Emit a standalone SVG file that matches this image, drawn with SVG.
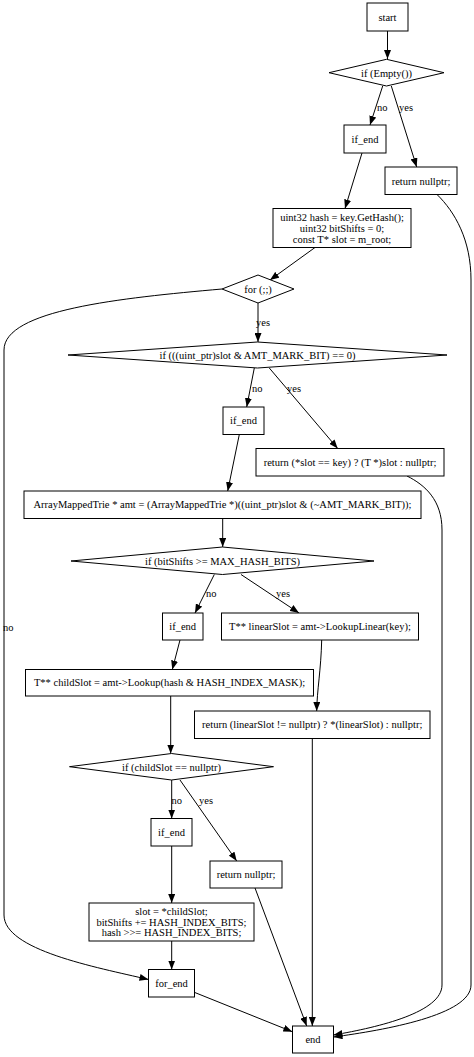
<svg xmlns="http://www.w3.org/2000/svg" width="474" height="1057" viewBox="0 0 474 1057">
<defs>
<marker id="ah" viewBox="0 0 9 7" refX="9" refY="3.5" markerWidth="9" markerHeight="7" markerUnits="userSpaceOnUse" orient="auto">
<path d="M0,0 L9,3.5 L0,7 z" fill="#000"/>
</marker>
<style>
.n rect, .n polygon { fill: #fff; stroke: #000; stroke-width: 1; }
text { font-family: "Liberation Serif", "Times New Roman", serif; font-size: 10.5px; fill: #000; }
.n text { text-anchor: middle; }
.e path { fill: none; stroke: #000; stroke-width: 1; marker-end: url(#ah); }
</style>
</defs>
<rect width="474" height="1057" fill="#fff"/>
<g id="edges" class="e">
<path d="M387.5,31 L387.5,59"/>
<path d="M382.7,86 L370,125"/>
<text x="377" y="110.5">no</text>
<path d="M391.3,86 L416.7,167"/>
<text x="399" y="110.5">yes</text>
<path d="M362,153 L345,208.5"/>
<path d="M315,247.5 L270,280"/>
<path d="M437,194.5 C455,212 471,240 471,280 L471,985 C471,1015 385,1030 333.5,1037"/>
<path d="M258,303 L258,342"/>
<text x="256" y="326">yes</text>
<path d="M222,289 C120,298 4,310 4,350 L4,915 C4,950 95,967 148.5,979.5"/>
<text x="3" y="631">no</text>
<path d="M254.3,368 L246.7,407"/>
<text x="252" y="391.5">no</text>
<path d="M269.3,368 L337.7,448.5"/>
<text x="287" y="391.5">yes</text>
<path d="M239.3,434.5 L227.7,491"/>
<path d="M407,476 C425,485 442,500 442,530 L442,985 C442,1012 380,1027 333.5,1035"/>
<path d="M222.7,518.5 L222.7,547"/>
<path d="M214.3,574.5 L195,613"/>
<text x="206" y="597">no</text>
<path d="M241,574.5 L299,613"/>
<text x="276" y="597">yes</text>
<path d="M180,640 L172.3,669.5"/>
<path d="M321.7,640 C321,670 317,690 316.7,711"/>
<path d="M170.7,696 L170.7,753.5"/>
<path d="M312.3,738.5 L312.3,1026"/>
<path d="M171.7,780 L171.7,818.5"/>
<text x="171.5" y="803.5">no</text>
<path d="M180,780 L236.7,861"/>
<text x="199" y="803.5">yes</text>
<path d="M171.7,846 L171.7,903"/>
<path d="M255,888 L306.7,1026"/>
<path d="M171.7,941 L171.7,969.5"/>
<path d="M194.3,992.3 L292.3,1031.7"/>
</g>
<g id="start" class="n"><rect x="367" y="3" width="41" height="28"/><text x="387.5" y="20.5">start</text></g>
<g id="if_empty" class="n"><polygon points="329,72.7 386.5,59.3 444,72.7 386.5,86"/><text x="386.5" y="76.5">if (Empty())</text></g>
<g id="if_end1" class="n"><rect x="344" y="125" width="42" height="28"/><text x="365" y="142.5">if_end</text></g>
<g id="ret_null1" class="n"><rect x="385" y="167" width="72" height="27.5"/><text x="421" y="184.5">return nullptr;</text></g>
<g id="init" class="n"><rect x="273" y="208.5" width="138" height="39"/><text x="342" y="221">uint32 hash = key.GetHash();</text><text x="342" y="232">uint32 bitShifts = 0;</text><text x="342" y="243">const T* slot = m_root;</text></g>
<g id="for" class="n"><polygon points="222,289 258,275 294,289 258,303"/><text x="258" y="292.5">for (;;)</text></g>
<g id="if_mark" class="n"><polygon points="68,355 257.5,342 447,355 257.5,368"/><text x="257.5" y="358.5">if (((uint_ptr)slot &amp; AMT_MARK_BIT) == 0)</text></g>
<g id="if_end2" class="n"><rect x="223" y="407" width="41" height="27.5"/><text x="243.5" y="424">if_end</text></g>
<g id="ret_slot" class="n"><rect x="256" y="448.5" width="188" height="27.5"/><text x="350" y="465.5">return (*slot == key) ? (T *)slot : nullptr;</text></g>
<g id="amt" class="n"><rect x="24" y="491" width="397" height="27.5"/><text x="222.5" y="508">ArrayMappedTrie * amt = (ArrayMappedTrie *)((uint_ptr)slot &amp; (~AMT_MARK_BIT));</text></g>
<g id="if_bits" class="n"><polygon points="71,561 222.5,547 374,561 222.5,574.5"/><text x="222.5" y="564.5">if (bitShifts &gt;= MAX_HASH_BITS)</text></g>
<g id="if_end3" class="n"><rect x="162.5" y="613" width="40.5" height="27"/><text x="182.7" y="630">if_end</text></g>
<g id="linear" class="n"><rect x="221.5" y="613" width="197" height="27"/><text x="320" y="630">T** linearSlot = amt-&gt;LookupLinear(key);</text></g>
<g id="child" class="n"><rect x="25.5" y="669.5" width="288" height="26.5"/><text x="169.5" y="686">T** childSlot = amt-&gt;Lookup(hash &amp; HASH_INDEX_MASK);</text></g>
<g id="ret_linear" class="n"><rect x="194.5" y="711" width="235.5" height="27.5"/><text x="312.2" y="728">return (linearSlot != nullptr) ? *(linearSlot) : nullptr;</text></g>
<g id="if_child" class="n"><polygon points="69.5,766.7 171.5,753.5 273.5,766.7 171.5,780"/><text x="171.5" y="770.5">if (childSlot == nullptr)</text></g>
<g id="if_end4" class="n"><rect x="151" y="818.5" width="41" height="27.5"/><text x="171.5" y="835.5">if_end</text></g>
<g id="ret_null2" class="n"><rect x="210" y="861" width="72" height="27"/><text x="246" y="878">return nullptr;</text></g>
<g id="slot" class="n"><rect x="89" y="903" width="165" height="38"/><text x="171.5" y="915">slot = *childSlot;</text><text x="171.5" y="925.5">bitShifts += HASH_INDEX_BITS;</text><text x="171.5" y="936">hash &gt;&gt;= HASH_INDEX_BITS;</text></g>
<g id="for_end" class="n"><rect x="148.5" y="969.5" width="46" height="27.5"/><text x="171.5" y="986.5">for_end</text></g>
<g id="end" class="n"><rect x="292.5" y="1026" width="41" height="27"/><text x="313" y="1043">end</text></g>
</svg>
